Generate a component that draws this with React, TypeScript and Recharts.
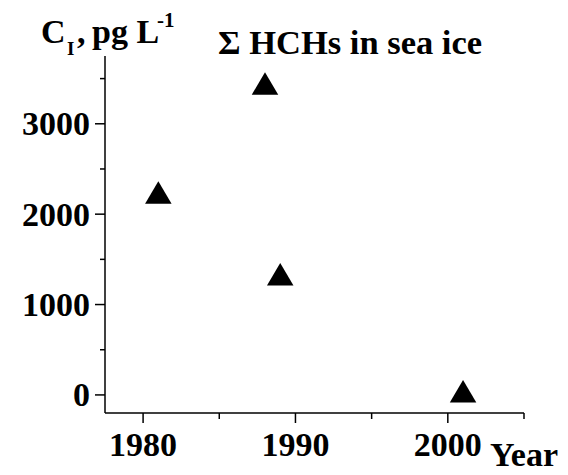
import { ScatterChart, Scatter, XAxis, YAxis } from "recharts";

const years = [1981, 1988, 1989, 2001];
const concentrations = [2240, 3445, 1335, 40];

const xTicks = [1980, 1985, 1990, 1995, 2000, 2005];
const xLabelled = [1980, 1990, 2000];
const yTicks = [0, 500, 1000, 1500, 2000, 2500, 3000, 3500];
const yLabelled = [0, 1000, 2000, 3000];

const FONT = '"Liberation Serif", "Times New Roman", serif';

const points = years.map((year, i) => ({ year, value: concentrations[i] }));

function XTick(props: any) {
  const { x, y, payload } = props;
  const major = xLabelled.includes(payload.value);
  return (
    <g>
      <line x1={x} x2={x} y1={y} y2={y + (major ? 10 : 6)} stroke="#000" strokeWidth={1.5} />
      {major && (
        <text x={x} y={y + 43} textAnchor="middle" fontFamily={FONT} fontWeight="bold" fontSize={34} fill="#000">
          {payload.value}
        </text>
      )}
    </g>
  );
}

function YTick(props: any) {
  const { x, y, payload } = props;
  const major = yLabelled.includes(payload.value);
  return (
    <g>
      <line x1={x} x2={x - (major ? 10 : 5)} y1={y} y2={y} stroke="#000" strokeWidth={1.5} />
      {major && (
        <text x={x - 15} y={y + 11.5} textAnchor="end" fontFamily={FONT} fontWeight="bold" fontSize={34} fill="#000">
          {payload.value}
        </text>
      )}
    </g>
  );
}

function Triangle(props: any) {
  const { cx, cy } = props;
  const w = 26.5;
  const h = 22.5;
  return (
    <polygon
      points={`${cx - w / 2},${cy + h / 2} ${cx + w / 2},${cy + h / 2} ${cx},${cy - h / 2}`}
      fill="#000"
    />
  );
}

export default function App() {
  return (
    <div style={{ position: "absolute", left: 0, top: 0, width: 568, height: 475, background: "#fff" }}>
      <ScatterChart width={568} height={475} margin={{ top: 56, right: 44, bottom: 32, left: 45 }}>
        <XAxis
          type="number"
          dataKey="year"
          domain={[1977.5, 2005]}
          ticks={xTicks}
          interval={0}
          allowDataOverflow
          height={30}
          tickSize={0}
          tickMargin={0}
          tickLine={false}
          axisLine={{ stroke: "#000", strokeWidth: 1.5 }}
          tick={XTick}
        />
        <YAxis
          type="number"
          dataKey="value"
          domain={[-200, 3750]}
          ticks={yTicks}
          interval={0}
          allowDataOverflow
          width={60}
          tickSize={0}
          tickMargin={0}
          tickLine={false}
          axisLine={{ stroke: "#000", strokeWidth: 1.5 }}
          tick={YTick}
        />
        <Scatter data={points} dataKey="value" shape={Triangle} fill="#000" isAnimationActive={false} />
      </ScatterChart>
      <svg
        width={568}
        height={475}
        style={{ position: "absolute", left: 0, top: 0, pointerEvents: "none" }}
      >
        <g fontFamily={FONT} fontWeight="bold" fill="#000">
          <text x={41} y={43} fontSize={34}>C</text>
          <text x={67} y={55} fontSize={19}>I</text>
          <text x={77} y={43} fontSize={34}>,</text>
          <text x={92} y={43} fontSize={34}>pg L</text>
          <text x={157} y={27} fontSize={21}>-1</text>
        </g>
        <text x={218} y={54} fontFamily={FONT} fontWeight="bold" fontSize={34.5} fill="#000">
          Σ HCHs in sea ice
        </text>
        <text x={490} y={466} fontFamily={FONT} fontWeight="bold" fontSize={34} fill="#000">
          Year
        </text>
      </svg>
    </div>
  );
}
